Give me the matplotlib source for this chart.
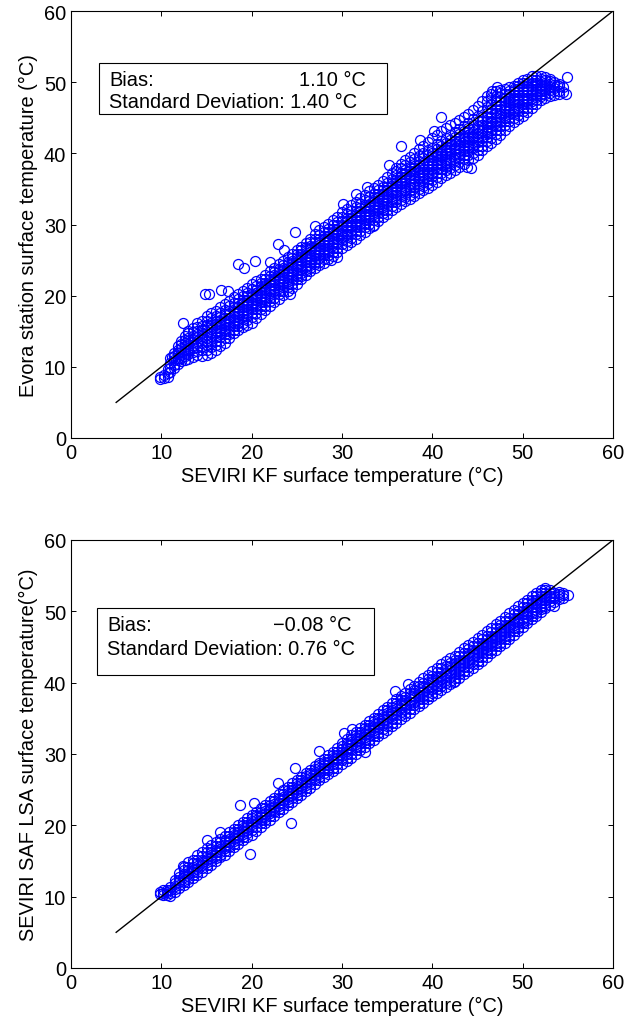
import matplotlib.pyplot as plt
from matplotlib.patches import Rectangle

plt.rcParams['font.family'] = ['Liberation Sans', 'DejaVu Sans']
plt.rcParams['font.size'] = 14.4

# SEVIRI KF temperature (x) with the Evora station temperatures read in that column (y)
evora_by_kf = [
    (9.9, [8.3, 8.6]),
    (10.3, [8.4, 8.8]),
    (10.7, [8.6, 9.1, 9.7]),
    (11.0, [9.3, 9.9, 10.5, 11.2]),
    (11.4, [9.8, 10.3, 10.9, 11.5, 12.0]),
    (11.8, [10.4, 10.9, 11.3, 11.9, 12.4, 12.9]),
    (12.2, [10.8, 11.2, 11.7, 12.1, 12.6, 13.2, 13.7]),
    (12.6, [10.9, 11.5, 12.0, 12.4, 12.9, 13.4, 13.8, 14.3]),
    (13.0, [11.1, 11.8, 12.3, 12.7, 13.2, 13.6, 14.1, 14.7]),
    (13.5, [11.4, 12.1, 12.6, 13.0, 13.5, 13.9, 14.4, 14.9, 15.4]),
    (14.0, [11.6, 12.2, 12.8, 13.3, 13.7, 14.2, 14.6, 15.1, 15.6, 16.1]),
    (14.5, [11.5, 12.3, 12.9, 13.4, 13.9, 14.3, 14.8, 15.2, 15.8, 16.5]),
    (15.0, [11.7, 12.4, 13.0, 13.6, 14.0, 14.5, 14.9, 15.4, 15.9, 16.4, 17.2]),
    (15.5, [12.0, 12.8, 13.4, 13.9, 14.3, 14.8, 15.3, 15.7, 16.2, 16.8, 17.5]),
    (16.0, [12.4, 13.1, 13.7, 14.2, 14.7, 15.1, 15.6, 16.0, 16.5, 17.1, 17.9]),
    (16.5, [12.9, 13.6, 14.2, 14.6, 15.1, 15.5, 16.0, 16.5, 17.0, 17.6, 18.4]),
    (17.0, [13.4, 14.1, 14.6, 15.1, 15.5, 16.0, 16.4, 16.9, 17.4, 18.0, 18.8]),
    (17.5, [14.0, 14.6, 15.1, 15.6, 16.0, 16.5, 16.9, 17.4, 17.9, 18.5, 19.3]),
    (18.0, [14.7, 15.2, 15.7, 16.1, 16.6, 17.0, 17.5, 17.9, 18.4, 19.0, 19.8]),
    (18.5, [15.2, 15.7, 16.2, 16.6, 17.1, 17.5, 18.0, 18.4, 18.9, 19.5, 20.2]),
    (19.0, [15.6, 16.2, 16.7, 17.1, 17.6, 18.0, 18.5, 18.9, 19.4, 20.0, 20.7]),
    (19.5, [15.9, 16.6, 17.1, 17.6, 18.0, 18.5, 18.9, 19.4, 19.9, 20.4, 21.1]),
    (20.0, [16.2, 17.0, 17.6, 18.1, 18.5, 19.0, 19.4, 19.9, 20.3, 20.9, 21.6]),
    (20.5, [16.8, 17.5, 18.1, 18.6, 19.0, 19.5, 19.9, 20.4, 20.8, 21.3, 22.0]),
    (21.0, [17.4, 18.1, 18.6, 19.1, 19.5, 20.0, 20.4, 20.9, 21.3, 21.8, 22.4]),
    (21.5, [18.0, 18.6, 19.1, 19.6, 20.0, 20.5, 20.9, 21.4, 21.8, 22.3, 22.9]),
    (22.0, [18.6, 19.2, 19.7, 20.1, 20.6, 21.0, 21.5, 21.9, 22.4, 22.8, 23.4]),
    (22.5, [19.1, 19.7, 20.2, 20.6, 21.1, 21.5, 22.0, 22.4, 22.9, 23.3, 23.9]),
    (23.0, [19.6, 20.2, 20.7, 21.1, 21.6, 22.0, 22.5, 22.9, 23.4, 23.8, 24.4]),
    (23.5, [20.1, 20.7, 21.2, 21.6, 22.1, 22.5, 23.0, 23.4, 23.9, 24.3, 24.9]),
    (24.0, [20.6, 21.2, 21.7, 22.1, 22.6, 23.0, 23.5, 23.9, 24.4, 24.8, 25.4]),
    (24.5, [21.1, 21.7, 22.2, 22.6, 23.1, 23.5, 24.0, 24.4, 24.9, 25.3, 25.9]),
    (25.0, [21.7, 22.3, 22.7, 23.2, 23.6, 24.1, 24.5, 25.0, 25.4, 25.9, 26.4]),
    (25.5, [22.3, 22.8, 23.2, 23.7, 24.1, 24.6, 25.0, 25.5, 25.9, 26.4, 26.9]),
    (26.0, [22.9, 23.4, 23.8, 24.2, 24.7, 25.1, 25.6, 26.0, 26.5, 26.9, 27.4]),
    (26.5, [23.4, 23.9, 24.3, 24.7, 25.2, 25.6, 26.1, 26.5, 27.0, 27.5, 28.0]),
    (27.0, [23.9, 24.4, 24.8, 25.2, 25.7, 26.1, 26.6, 27.0, 27.5, 28.0, 28.6]),
    (27.5, [24.3, 24.8, 25.3, 25.7, 26.2, 26.6, 27.1, 27.5, 28.0, 28.5, 29.2]),
    (28.0, [24.6, 25.2, 25.7, 26.2, 26.6, 27.1, 27.5, 28.0, 28.4, 28.9, 29.7]),
    (28.5, [25.1, 25.7, 26.2, 26.6, 27.1, 27.5, 28.0, 28.4, 28.9, 29.4, 30.1]),
    (29.0, [25.6, 26.2, 26.7, 27.1, 27.6, 28.0, 28.5, 28.9, 29.4, 29.9, 30.6]),
    (29.5, [26.1, 26.7, 27.2, 27.6, 28.1, 28.5, 29.0, 29.4, 29.9, 30.4, 31.1]),
    (30.0, [26.7, 27.3, 27.8, 28.2, 28.7, 29.1, 29.6, 30.0, 30.5, 31.0, 31.7]),
    (30.5, [27.1, 27.7, 28.2, 28.7, 29.1, 29.6, 30.0, 30.5, 30.9, 31.5, 32.2]),
    (31.0, [27.5, 28.1, 28.6, 29.1, 29.6, 30.0, 30.5, 30.9, 31.4, 31.9, 32.7]),
    (31.5, [28.0, 28.6, 29.1, 29.6, 30.1, 30.5, 31.0, 31.4, 31.9, 32.4, 33.2]),
    (32.0, [28.5, 29.1, 29.6, 30.1, 30.5, 31.0, 31.4, 31.9, 32.3, 32.9, 33.7]),
    (32.5, [29.0, 29.6, 30.1, 30.6, 31.0, 31.5, 31.9, 32.4, 32.8, 33.4, 34.2]),
    (33.0, [29.5, 30.1, 30.6, 31.0, 31.5, 31.9, 32.4, 32.8, 33.3, 33.9, 34.7]),
    (33.5, [30.0, 30.6, 31.1, 31.5, 32.0, 32.4, 32.9, 33.3, 33.8, 34.3, 35.1]),
    (34.0, [30.5, 31.1, 31.6, 32.0, 32.5, 32.9, 33.4, 33.8, 34.3, 34.8, 35.5]),
    (34.5, [31.0, 31.6, 32.1, 32.5, 33.0, 33.4, 33.9, 34.3, 34.8, 35.3, 36.1]),
    (35.0, [31.5, 32.1, 32.6, 33.0, 33.5, 33.9, 34.4, 34.8, 35.3, 35.8, 36.7]),
    (35.5, [32.0, 32.6, 33.1, 33.6, 34.0, 34.5, 34.9, 35.4, 35.8, 36.4, 37.3]),
    (36.0, [32.5, 33.1, 33.6, 34.1, 34.5, 35.0, 35.4, 35.9, 36.3, 36.9, 37.5, 38.0]),
    (36.5, [32.9, 33.5, 34.0, 34.5, 34.9, 35.4, 35.8, 36.3, 36.7, 37.3, 38.0, 38.5]),
    (37.0, [33.3, 33.9, 34.4, 34.9, 35.3, 35.8, 36.2, 36.7, 37.1, 37.7, 38.4, 39.0]),
    (37.5, [33.6, 34.2, 34.8, 35.3, 35.7, 36.2, 36.6, 37.1, 37.5, 38.1, 38.8, 39.5]),
    (38.0, [34.0, 34.6, 35.2, 35.7, 36.1, 36.6, 37.0, 37.5, 37.9, 38.5, 39.2, 40.1]),
    (38.5, [34.4, 35.0, 35.6, 36.1, 36.5, 37.0, 37.4, 37.9, 38.3, 38.9, 39.6, 40.6]),
    (39.0, [34.8, 35.4, 36.0, 36.5, 36.9, 37.4, 37.8, 38.3, 38.7, 39.3, 40.0, 41.1]),
    (39.5, [35.1, 35.8, 36.4, 36.9, 37.3, 37.8, 38.2, 38.7, 39.1, 39.7, 40.4, 41.6]),
    (40.0, [35.5, 36.2, 36.8, 37.3, 37.8, 38.2, 38.7, 39.1, 39.6, 40.1, 40.8, 42.1]),
    (40.5, [36.0, 36.7, 37.3, 37.8, 38.2, 38.7, 39.1, 39.6, 40.0, 40.6, 41.3, 42.6]),
    (41.0, [36.5, 37.2, 37.8, 38.3, 38.7, 39.2, 39.6, 40.1, 40.5, 41.1, 41.8, 43.1]),
    (41.5, [36.9, 37.6, 38.2, 38.7, 39.1, 39.6, 40.0, 40.5, 40.9, 41.5, 42.2, 43.5]),
    (42.0, [37.3, 38.0, 38.6, 39.1, 39.5, 40.0, 40.4, 40.9, 41.3, 41.9, 42.6, 44.0]),
    (42.5, [37.7, 38.4, 39.0, 39.5, 39.9, 40.4, 40.8, 41.3, 41.7, 42.3, 43.0, 44.3]),
    (43.0, [38.1, 38.8, 39.4, 39.9, 40.3, 40.8, 41.2, 41.7, 42.1, 42.7, 43.4, 44.7]),
    (43.5, [38.5, 39.2, 39.8, 40.3, 40.7, 41.2, 41.6, 42.1, 42.5, 43.1, 43.8, 45.1]),
    (44.0, [39.0, 39.7, 40.3, 40.8, 41.2, 41.7, 42.1, 42.6, 43.0, 43.6, 44.3, 45.5]),
    (44.5, [39.4, 40.1, 40.7, 41.2, 41.6, 42.1, 42.5, 43.0, 43.4, 44.0, 44.8, 46.1]),
    (45.0, [39.8, 40.5, 41.1, 41.6, 42.0, 42.5, 42.9, 43.4, 43.9, 44.5, 45.3, 46.7]),
    (45.5, [40.4, 41.1, 41.7, 42.2, 42.6, 43.1, 43.5, 44.0, 44.5, 45.1, 45.9, 47.3]),
    (46.0, [41.0, 41.7, 42.3, 42.8, 43.2, 43.7, 44.1, 44.6, 45.1, 45.7, 46.5, 47.4, 48.0]),
    (46.5, [41.5, 42.2, 42.8, 43.3, 43.7, 44.2, 44.6, 45.1, 45.6, 46.2, 47.0, 47.8, 48.4]),
    (47.0, [42.0, 42.7, 43.3, 43.8, 44.2, 44.7, 45.1, 45.6, 46.1, 46.7, 47.4, 48.1, 48.7]),
    (47.5, [42.6, 43.3, 43.9, 44.4, 44.8, 45.3, 45.7, 46.2, 46.7, 47.3, 47.9, 48.5, 48.9]),
    (48.0, [43.3, 44.0, 44.5, 45.0, 45.4, 45.9, 46.3, 46.8, 47.3, 47.8, 48.4, 49.1]),
    (48.5, [43.9, 44.5, 45.0, 45.5, 45.9, 46.4, 46.8, 47.3, 47.8, 48.3, 48.8, 49.3]),
    (49.0, [44.4, 45.0, 45.5, 46.0, 46.4, 46.9, 47.3, 47.8, 48.2, 48.7, 49.1, 49.5]),
    (49.5, [44.8, 45.4, 45.9, 46.4, 46.8, 47.3, 47.7, 48.2, 48.6, 49.1, 49.5, 49.9]),
    (50.0, [45.3, 45.9, 46.4, 46.9, 47.3, 47.8, 48.2, 48.7, 49.1, 49.5, 49.9, 50.3]),
    (50.5, [45.8, 46.4, 46.9, 47.3, 47.8, 48.2, 48.7, 49.1, 49.5, 49.9, 50.5]),
    (51.0, [46.3, 46.9, 47.4, 47.8, 48.3, 48.7, 49.1, 49.5, 49.9, 50.3, 50.8]),
    (51.5, [46.9, 47.5, 47.9, 48.3, 48.7, 49.1, 49.5, 49.9, 50.3, 50.9]),
    (52.0, [47.5, 48.0, 48.4, 48.8, 49.2, 49.6, 50.0, 50.4, 50.9]),
    (52.5, [47.8, 48.3, 48.7, 49.1, 49.5, 49.9, 50.3, 50.7]),
    (53.0, [48.0, 48.5, 48.9, 49.3, 49.7, 50.1, 50.5]),
    (53.5, [48.2, 48.7, 49.2, 49.6, 50.0]),
    (54.0, [48.3, 48.8, 49.4, 49.8]),
    (54.5, [48.6, 49.3]),
]
evora_outlier_kf = [11.2, 12.4, 12.9, 14.8, 15.3, 16.6, 17.4, 18.5, 19.1, 20.4, 22.0, 22.9,
                    23.6, 24.2, 24.8, 27.0, 28.8, 29.4, 30.1, 31.6, 32.8, 33.4, 35.2, 36.5,
                    38.6, 40.2, 41.0, 43.8, 44.3, 46.6, 47.2, 53.8, 54.8, 54.9]
evora_outlier_y = [11.4, 16.1, 15.0, 20.3, 20.2, 20.8, 20.6, 24.4, 23.9, 24.9, 24.8, 27.2,
                   26.4, 20.3, 29.0, 29.8, 25.0, 25.5, 32.9, 34.3, 35.2, 29.8, 38.3, 41.1,
                   41.9, 43.1, 45.1, 38.1, 38.0, 48.8, 49.3, 49.6, 48.4, 50.7]

# SEVIRI KF temperature (x) with the SEVIRI SAF LSA temperatures read in that column (y)
lsa_by_kf = [
    (9.8, [10.4, 10.7]),
    (10.2, [10.2, 10.5, 10.9]),
    (10.6, [10.3, 10.6, 11.0]),
    (11.0, [10.1, 10.5, 10.9, 11.4]),
    (11.5, [10.7, 11.1, 11.5, 11.9, 12.4]),
    (12.0, [11.2, 11.6, 12.0, 12.4, 12.8, 13.3]),
    (12.5, [11.6, 12.0, 12.4, 12.8, 13.2, 13.7, 14.2]),
    (13.0, [12.1, 12.5, 12.9, 13.3, 13.7, 14.2, 14.8]),
    (13.5, [12.6, 13.0, 13.4, 13.8, 14.2, 14.7, 15.2]),
    (14.0, [13.0, 13.5, 13.9, 14.3, 14.7, 15.2, 15.8]),
    (14.5, [13.5, 14.0, 14.4, 14.8, 15.2, 15.7, 16.3]),
    (15.0, [14.0, 14.5, 14.9, 15.3, 15.7, 16.2, 16.8]),
    (15.5, [14.5, 15.0, 15.4, 15.8, 16.2, 16.7, 17.2]),
    (16.0, [15.0, 15.4, 15.8, 16.2, 16.6, 17.1, 17.6]),
    (16.5, [15.5, 15.9, 16.3, 16.7, 17.1, 17.6, 18.1]),
    (17.0, [15.9, 16.4, 16.8, 17.2, 17.6, 18.0, 18.5]),
    (17.5, [16.4, 16.9, 17.3, 17.7, 18.1, 18.5, 19.0]),
    (18.0, [16.9, 17.4, 17.8, 18.2, 18.6, 19.0, 19.5]),
    (18.5, [17.4, 17.9, 18.3, 18.7, 19.1, 19.5, 20.0]),
    (19.0, [17.9, 18.4, 18.8, 19.2, 19.6, 20.0, 20.5]),
    (19.5, [18.4, 18.9, 19.3, 19.7, 20.1, 20.5, 21.0]),
    (20.0, [18.7, 19.3, 19.8, 20.2, 20.6, 21.0, 21.4]),
    (20.5, [19.2, 19.8, 20.3, 20.7, 21.1, 21.5, 21.9]),
    (21.0, [19.8, 20.3, 20.7, 21.1, 21.5, 21.9, 22.4]),
    (21.5, [20.3, 20.8, 21.2, 21.6, 22.0, 22.4, 22.9]),
    (22.0, [20.8, 21.3, 21.7, 22.1, 22.5, 22.9, 23.4]),
    (22.5, [21.3, 21.8, 22.2, 22.6, 23.0, 23.4, 23.9]),
    (23.0, [21.8, 22.3, 22.7, 23.1, 23.5, 23.9, 24.4]),
    (23.5, [22.3, 22.8, 23.2, 23.6, 24.0, 24.4, 24.9]),
    (24.0, [22.8, 23.3, 23.7, 24.1, 24.5, 24.9, 25.4]),
    (24.5, [23.3, 23.8, 24.2, 24.6, 25.0, 25.4, 25.9]),
    (25.0, [23.8, 24.3, 24.7, 25.1, 25.5, 25.9, 26.3]),
    (25.5, [24.3, 24.8, 25.2, 25.6, 26.0, 26.4, 26.8]),
    (26.0, [24.8, 25.3, 25.7, 26.1, 26.5, 26.9, 27.3]),
    (26.5, [25.3, 25.8, 26.2, 26.6, 27.0, 27.4, 27.8]),
    (27.0, [25.8, 26.3, 26.7, 27.1, 27.5, 27.9, 28.3]),
    (27.5, [26.3, 26.8, 27.2, 27.6, 28.0, 28.4, 28.8]),
    (28.0, [26.8, 27.3, 27.7, 28.1, 28.5, 28.9, 29.3]),
    (28.5, [27.2, 27.7, 28.1, 28.5, 28.9, 29.3, 29.8]),
    (29.0, [27.6, 28.1, 28.6, 29.0, 29.4, 29.8, 30.3]),
    (29.5, [28.1, 28.6, 29.1, 29.5, 29.9, 30.3, 30.8]),
    (30.0, [28.6, 29.1, 29.5, 29.9, 30.3, 30.7, 31.1, 31.6]),
    (30.5, [29.0, 29.5, 30.0, 30.4, 30.8, 31.2, 31.6, 32.1]),
    (31.0, [29.5, 30.0, 30.5, 30.9, 31.3, 31.7, 32.1, 32.6]),
    (31.5, [30.0, 30.5, 31.0, 31.4, 31.8, 32.2, 32.6, 33.1]),
    (32.0, [30.5, 31.0, 31.5, 31.9, 32.3, 32.7, 33.1, 33.6]),
    (32.5, [31.0, 31.5, 32.0, 32.4, 32.8, 33.2, 33.6, 34.1]),
    (33.0, [31.5, 32.0, 32.5, 32.9, 33.3, 33.7, 34.1, 34.6]),
    (33.5, [32.0, 32.5, 33.0, 33.4, 33.8, 34.2, 34.6, 35.1]),
    (34.0, [32.5, 33.0, 33.5, 33.9, 34.3, 34.7, 35.1, 35.6]),
    (34.5, [33.0, 33.5, 34.0, 34.4, 34.8, 35.2, 35.6, 36.1]),
    (35.0, [33.4, 33.9, 34.4, 34.9, 35.3, 35.7, 36.1, 36.6]),
    (35.5, [33.9, 34.4, 34.9, 35.4, 35.8, 36.2, 36.6, 37.1]),
    (36.0, [34.4, 34.9, 35.4, 35.9, 36.3, 36.7, 37.1, 37.7]),
    (36.5, [34.9, 35.4, 35.9, 36.4, 36.8, 37.2, 37.6, 38.2]),
    (37.0, [35.3, 35.8, 36.3, 36.8, 37.2, 37.6, 38.0, 38.6]),
    (37.5, [35.8, 36.3, 36.8, 37.3, 37.7, 38.1, 38.5, 39.1]),
    (38.0, [36.3, 36.8, 37.3, 37.8, 38.2, 38.6, 39.0, 39.6]),
    (38.5, [36.7, 37.2, 37.7, 38.2, 38.7, 39.1, 39.5, 40.1]),
    (39.0, [37.2, 37.7, 38.2, 38.7, 39.2, 39.6, 40.0, 40.6]),
    (39.5, [37.7, 38.2, 38.7, 39.2, 39.7, 40.1, 40.5, 41.1]),
    (40.0, [38.1, 38.6, 39.1, 39.6, 40.1, 40.5, 41.0, 41.6]),
    (40.5, [38.6, 39.1, 39.6, 40.1, 40.6, 41.0, 41.5, 42.1]),
    (41.0, [39.0, 39.5, 40.0, 40.5, 41.0, 41.5, 42.0, 42.6]),
    (41.5, [39.4, 39.9, 40.4, 40.9, 41.4, 41.9, 42.4, 43.0]),
    (42.0, [39.8, 40.3, 40.8, 41.3, 41.8, 42.3, 42.8, 43.4]),
    (42.5, [40.2, 40.7, 41.2, 41.7, 42.2, 42.7, 43.2, 43.8]),
    (43.0, [40.7, 41.2, 41.7, 42.2, 42.7, 43.2, 43.7, 44.3]),
    (43.5, [41.2, 41.7, 42.2, 42.7, 43.2, 43.7, 44.2, 44.8]),
    (44.0, [41.7, 42.2, 42.7, 43.2, 43.7, 44.2, 44.7, 45.3]),
    (44.5, [42.1, 42.6, 43.1, 43.6, 44.1, 44.6, 45.1, 45.7]),
    (45.0, [42.6, 43.1, 43.6, 44.1, 44.6, 45.1, 45.6, 46.2]),
    (45.5, [43.1, 43.6, 44.1, 44.6, 45.1, 45.6, 46.1, 46.7]),
    (46.0, [43.6, 44.1, 44.6, 45.1, 45.6, 46.1, 46.6, 47.2]),
    (46.5, [44.1, 44.6, 45.1, 45.6, 46.1, 46.6, 47.1, 47.7]),
    (47.0, [44.6, 45.1, 45.6, 46.1, 46.6, 47.1, 47.6, 48.2]),
    (47.5, [45.1, 45.6, 46.1, 46.6, 47.1, 47.6, 48.1, 48.7]),
    (48.0, [45.6, 46.1, 46.6, 47.1, 47.6, 48.1, 48.6, 49.2]),
    (48.5, [46.1, 46.6, 47.1, 47.6, 48.1, 48.6, 49.1, 49.7]),
    (49.0, [46.7, 47.2, 47.7, 48.1, 48.6, 49.1, 49.6, 50.2]),
    (49.5, [47.2, 47.7, 48.2, 48.6, 49.1, 49.6, 50.1, 50.7]),
    (50.0, [47.8, 48.3, 48.7, 49.1, 49.6, 50.1, 50.6, 51.1]),
    (50.5, [48.3, 48.8, 49.2, 49.6, 50.1, 50.6, 51.1, 51.6]),
    (51.0, [48.9, 49.3, 49.7, 50.1, 50.6, 51.1, 51.6, 52.1]),
    (51.5, [49.4, 49.8, 50.2, 50.6, 51.1, 51.6, 52.1, 52.6]),
    (52.0, [49.9, 50.3, 50.7, 51.1, 51.6, 52.1, 52.6, 53.0]),
    (52.5, [50.4, 50.8, 51.2, 51.6, 52.1, 52.6, 53.0, 53.3]),
    (53.0, [50.9, 51.4, 51.8, 52.2, 52.6, 53.0]),
    (53.5, [51.3, 51.8, 52.2, 52.6]),
    (54.0, [51.7, 52.1, 52.5]),
    (54.5, [51.9, 52.3, 52.6]),
]
lsa_outlier_kf = [12.4, 15.0, 16.5, 18.7, 19.8, 20.3, 22.9, 24.3, 24.8, 27.5, 30.2, 31.1,
                  32.6, 35.9, 37.3, 42.4, 53.5, 54.0, 55.0]
lsa_outlier_y = [14.3, 18.0, 19.0, 22.8, 16.0, 23.2, 26.0, 20.3, 28.1, 30.4, 33.0, 33.5,
                 30.3, 38.9, 39.8, 40.1, 50.7, 52.7, 52.3]

ticks = [0, 10, 20, 30, 40, 50, 60]
one_to_one = [5, 60]


def flatten(columns, extra_x, extra_y):
    xs, ys = [], []
    for x, col in columns:
        xs.extend([x] * len(col))
        ys.extend(col)
    return xs + extra_x, ys + extra_y


def draw_panel(ax, columns, extra_x, extra_y, ylabel, bias, sd, box, rows):
    xs, ys = flatten(columns, extra_x, extra_y)
    ax.plot(xs, ys, 'o', mfc='none', mec=(0, 0, 1), ms=7.2, mew=0.9, zorder=2)
    ax.plot(one_to_one, one_to_one, color='k', lw=1.0, zorder=3)
    ax.set_xlim(0, 60)
    ax.set_ylim(0, 60)
    ax.set_xticks(ticks)
    ax.set_yticks(ticks)
    ax.tick_params(direction='in', length=3.5, width=0.7, top=True, right=True, pad=3.5)
    for s in ax.spines.values():
        s.set_linewidth(0.8)
    ax.set_xlabel('SEVIRI KF surface temperature (°C)', labelpad=3)
    ax.set_ylabel(ylabel, labelpad=4)

    x0, y0, w, h = box
    ax.add_patch(Rectangle((x0, y0), w, h, fc='white', ec='k', lw=0.8, zorder=4))
    ax.text(x0 + 1.1, rows[0], 'Bias:', va='center', zorder=5)
    ax.text(x0 + w - 2.4, rows[0], bias, va='center', ha='right', zorder=5)
    ax.text(x0 + 1.1, rows[1], 'Standard Deviation: ' + sd, va='center', zorder=5)


fig = plt.figure(figsize=(6.38, 10.2), dpi=100)
ax1 = fig.add_axes([71 / 638, 1 - 439 / 1020, 542 / 638, 427 / 1020])
ax2 = fig.add_axes([71 / 638, 1 - 969 / 1020, 542 / 638, 428 / 1020])

draw_panel(ax1, evora_by_kf, evora_outlier_kf, evora_outlier_y,
           'Evora station surface temperature (°C)', '1.10 °C', '1.40 °C',
           (3.1, 45.5, 31.9, 7.2), (50.4, 47.3))
draw_panel(ax2, lsa_by_kf, lsa_outlier_kf, lsa_outlier_y,
           'SEVIRI SAF LSA surface temperature(°C)', '\u22120.08 °C', '0.76 °C',
           (2.9, 41.1, 30.6, 9.4), (48.2, 44.8))

fig.savefig('out.png', dpi=100)
